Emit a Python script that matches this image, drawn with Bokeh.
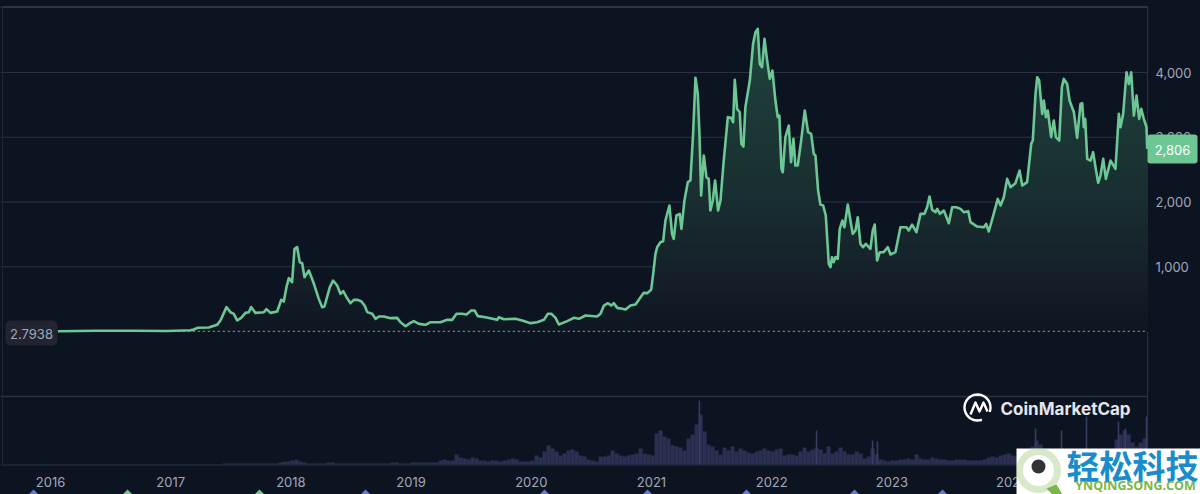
import numpy as np
from bokeh.embed import file_html
from bokeh.resources import INLINE
from bokeh.plotting import figure
from bokeh.models import (Range1d, LinearAxis, FixedTicker, NumeralTickFormatter, Label,
                          BoxAnnotation, PolyAnnotation)

# ---------- data ----------
price_dates = [2016.061,2016.388,2016.693,2016.971,2017.165,2017.192,2017.226,2017.317,2017.386,2017.414,2017.464,2017.497,2017.525,2017.553,2017.586,2017.622,2017.650,2017.669,2017.705,2017.775,2017.797,2017.830,2017.886,2017.919,2017.941,2017.963,2017.983,2018.010,2018.030,2018.052,2018.074,2018.094,2018.113,2018.149,2018.171,2018.196,2018.232,2018.260,2018.279,2018.324,2018.351,2018.385,2018.412,
2018.435,2018.463,2018.496,2018.524,2018.552,2018.585,2018.613,2018.635,2018.676,2018.704,2018.732,2018.773,2018.829,2018.884,2018.912,2018.954,2018.990,2019.023,2019.065,2019.120,2019.162,2019.245,2019.300,2019.342,2019.378,2019.425,2019.461,2019.500,2019.528,2019.555,2019.619,2019.716,2019.730,2019.772,2019.869,2019.924,2019.994,2020.049,2020.105,2020.138,2020.166,2020.202,2020.229,2020.299,2020.354,2020.396,2020.451,2020.548,2020.576,2020.604,2020.637,2020.665,2020.687,2020.715,2020.756,2020.784,2020.825,2020.867,2020.909,2020.936,2020.964,2020.997,2021.014,
2021.033,2021.047,2021.074,2021.097,2021.116,2021.149,2021.171,2021.185,2021.207,2021.235,2021.249,2021.274,2021.302,2021.324,2021.346,2021.366,2021.385,2021.399,2021.413,2021.435,2021.457,2021.476,2021.490,2021.510,2021.529,2021.554,2021.574,2021.601,2021.635,2021.662,2021.679,2021.693,2021.712,2021.734,2021.748,2021.765,2021.781,2021.818,2021.845,2021.865,2021.884,2021.901,2021.920,2021.940,2021.962,2021.984,2022.006,2022.031,2022.050,2022.064,2022.081,2022.092,2022.114,2022.142,2022.161,2022.181,2022.197,2022.217,2022.245,2022.275,2022.303,2022.328,2022.350,2022.364,2022.386,2022.405,2022.428,2022.450,2022.475,2022.489,2022.502,2022.516,2022.530,2022.550,2022.566,2022.588,2022.605,2022.633,2022.655,2022.674,2022.697,2022.716,2022.738,2022.760,2022.783,2022.821,2022.841,2022.857,2022.877,2022.899,2022.932,2022.966,2022.988,2023.029,2023.071,2023.121,2023.140,2023.168,2023.204,
2023.238,2023.271,2023.293,2023.313,2023.335,2023.363,2023.377,2023.399,2023.432,2023.474,2023.501,2023.537,2023.571,2023.598,2023.635,2023.654,2023.709,2023.765,2023.784,2023.806,2023.843,2023.881,2023.904,2023.931,2023.959,2023.987,2024.028,2024.062,2024.084,2024.125,2024.159,2024.172,2024.195,2024.209,2024.225,2024.250,2024.264,2024.281,2024.297,2024.325,2024.347,2024.364,2024.392,2024.414,2024.430,2024.458,2024.478,2024.514,2024.541,2024.569,2024.583,2024.597,2024.608,2024.625,2024.652,2024.674,2024.694,2024.716,2024.735,2024.758,2024.780,2024.819,2024.860,2024.888,2024.902,2024.924,2024.952,2024.971,2024.991,2025.013,2025.035,2025.057,2025.074,2025.096,2025.118,2025.124]
price_values = [3,12,12,8,20,31,57,62,103,170,376,298,273,170,211,288,298,376,288,298,345,288,309,489,463,685,824,762,1276,1302,1070,1055,839,942,839,710,504,376,386,685,787,710,582,
623,530,437,489,489,468,401,299,273,196,232,232,206,211,144,82,129,160,118,103,144,144,180,180,273,273,262,324,324,237,221,180,221,190,196,170,129,144,180,273,273,211,108,160,211,196,247,232,273,401,437,401,437,365,350,340,401,417,530,597,592,643,890,
1199,1302,1379,1395,1714,1946,1508,1431,1791,1817,1585,2023,2306,2332,3052,3917,3670,3052,2100,2718,2383,2357,1868,2023,2332,1868,2023,2640,3310,3299,3232,3886,3438,3387,2898,2857,3464,3876,4442,4622,4674,4133,4082,4519,4184,3901,4030,3567,3310,3335,2512,2460,3001,3181,2615,2975,2563,2563,2949,3412,3078,3052,2743,2718,2177,1961,1946,1791,1045,993,1148,1071,1148,1122,1585,1714,1611,1961,1714,1508,1560,1765,1354,1302,1354,1276,1560,1652,1096,1225,1225,1302,1189,1225,1611,1611,1560,1652,1534,
1817,1817,1920,2085,1879,1843,1894,1817,1868,1673,1920,1920,1894,1843,1858,1688,1621,1611,1662,1544,1791,2048,1946,2074,2357,2229,2290,2486,2254,2306,2898,2949,3670,3927,3876,3361,3567,3310,3412,3001,3258,3001,2949,3773,3901,3824,3567,3387,2990,3515,3526,3155,3284,2666,2640,2769,2537,2296,2409,2666,2357,2640,2512,3361,3155,3361,4004,3824,4004,3335,3644,3284,3438,3284,3155,2821]

volume_start = 2017.448
volume_step = 0.03328
volume_values = [1,1,1,1,1,1,1,1,1,1,1,1,1,1,2,3,3,4,5,3,2,1,1,1,1,1,2,2,1,1,1,1,1,1,1,1,1,1,1,1,1,1,2,2,1,1,1,2,2,2,
2,2,2,2,4,5,4,4,10,7,6,5,7,6,4,4,3,4,4,3,4,5,6,5,3,3,3,4,9,7,13,19,16,13,9,11,14,15,13,9,8,5,4,3,8,8,9,14,11,9,8,9,10,11,16,11,10,9,
31,34,28,26,19,18,17,14,26,30,40,50,33,20,18,14,10,17,14,18,13,16,14,12,11,13,14,16,14,13,15,16,9,10,10,9,13,17,13,15,17,15,11,18,11,13,17,13,10,10,13,11,6,8,16,10,5,4,3,4,4,5,5,6,5,10,6,5,5,7,6,5,5,4,4,5,5,5,4,4,4,4,5,7,8,7,9,10,11,9,8,11,12,14,18,24,20,16,15,14,14,13,12,12,12,10,12,14,12,12,14,14,12,14,14,25,30,34,30,22,18,22,26]
spike_dates = [2021.399,2022.373,2022.839,2022.880,2024.195,2024.411,2024.619,2024.885,2024.943,2025.118]
spike_values = [64,34,24,23,36,34,48,43,36,48]

year_ticks = [2016,2017,2018,2019,2020,2021,2022,2023,2024]
price_ticks = [1000,2000,3000,4000]
event_years = [2015.859,2016.641,2017.739,2018.621,2020.110,2020.967,2021.790,2022.689,2023.421]
event_kinds = ["b","g","g","b","b","b","b","b","b"]
open_price = 2.7938
last_price = 2806

# ---------- scales ----------
BG = "#0d1421"
GRID = "#2a3142"
TXT = "#a1a7bb"
PX_PER_YEAR = 120.2
PX_PER_USD = 0.06475

def X(px):
    return 2016 + (px - 50) / PX_PER_YEAR

def Y(py):
    return (331 - py) / PX_PER_USD

p = figure(width=1200, height=494, output_backend="svg", toolbar_location=None,
           x_range=Range1d(X(0), X(1200)), y_range=Range1d(Y(494), Y(0)),
           min_border_left=0, min_border_right=0, min_border_top=0, min_border_bottom=0,
           background_fill_color=BG, border_fill_color=BG, outline_line_color=None,
           x_axis_location=None, y_axis_location=None)
p.grid.visible = False
p.extra_y_ranges = {"vol": Range1d(-30, 464)}

# axes pinned inside the frame
xa = LinearAxis(ticker=FixedTicker(ticks=year_ticks), axis_line_color=None, major_tick_line_color=None,
                minor_tick_line_color=None, major_tick_out=0, major_label_text_color=TXT,
                major_label_text_font="Inter", major_label_text_font_size="13px",
                major_label_standoff=12, fixed_location=Y(464))
xa.major_label_overrides = {y: str(y) for y in year_ticks}
p.add_layout(xa, "below")
ya = LinearAxis(ticker=FixedTicker(ticks=price_ticks), formatter=NumeralTickFormatter(format="0,0"),
                axis_line_color=None, major_tick_line_color=None, minor_tick_line_color=None, major_tick_out=0,
                major_label_text_color=TXT, major_label_text_font="Inter",
                major_label_text_font_size="13px", major_label_standoff=8, fixed_location=X(1147))
p.add_layout(ya, "right")

# grid and frame lines
p.segment(x0=X(0), x1=X(1147), y0=price_ticks, y1=price_ticks, line_color=GRID, line_width=1)
p.segment(x0=X(0), x1=X(1147), y0=Y(396), y1=Y(396), line_color=GRID, line_width=1.5)
p.segment(x0=X(0), x1=X(1147), y0=Y(6.5), y1=Y(6.5), line_color="#383f50", line_width=1.5)
p.segment(x0=X(0), x1=X(1147), y0=Y(464.5), y1=Y(464.5), line_color=GRID, line_width=1)
p.segment(x0=X(2), x1=X(2), y0=Y(464), y1=Y(6), line_color="#1f2534", line_width=1)
p.segment(x0=X(1147), x1=X(1147), y0=Y(464), y1=Y(6), line_color=GRID, line_width=1)

# volume
vol_dates = volume_start + volume_step * np.arange(len(volume_values))
p.vbar(x=vol_dates, top=volume_values, bottom=0, width=volume_step * 1.02, y_range_name="vol",
       fill_color="#2b2f52", line_color=None)
p.vbar(x=spike_dates, top=spike_values, bottom=0, width=volume_step * 0.4, y_range_name="vol",
       fill_color="#383c62", line_color=None)

# gradient under the price line, painted from the top band down
prices = np.array(price_values, dtype=float)
for top in np.arange(5000, 0, -125):
    col = [np.interp(top, [0, 1000, 2000, 4700], c) for c in
           ([14, 21, 25, 32], [22, 33, 45, 68], [33, 42, 48, 62])]
    p.varea(x=price_dates, y1=0, y2=np.minimum(prices, top),
            fill_color="#%02x%02x%02x" % tuple(int(v) for v in col))

# opening-price line and price line
p.line([price_dates[0], X(1147)], [open_price, open_price], line_color="#9a9fad", line_width=1, line_dash="2 3")
p.line(price_dates, price_values, line_color="#6cc794", line_width=2.6, line_join="round")

# CoinMarketCap logo
a = np.radians(np.arange(-20, 300, 10))
p.line(X(977) + 13 * np.cos(a) / PX_PER_YEAR, Y(407) + 13 * np.sin(a) / PX_PER_USD, line_color="#ffffff", line_width=2.4)
p.line([X(v) for v in (970, 975, 979, 983, 987)], [Y(v) for v in (414, 402, 411, 402, 411)],
       line_color="#ffffff", line_width=2.4, line_join="round")
p.add_layout(Label(x=X(1000), y=Y(408), text="CoinMarketCap", text_color="#e4e6eb", text_font="Inter",
                   text_font_size="17px", text_font_style="bold", text_baseline="middle", text_align="left"))

# price tags
p.add_layout(BoxAnnotation(left=X(1147), right=X(1197), top=Y(134), bottom=Y(163), fill_color="#6cc794",
                           fill_alpha=1, line_color=None, border_radius=3))
p.add_layout(Label(x=X(1172), y=last_price, text="2,806", text_color="#ffffff", text_font="Inter",
                   text_font_size="13px", text_align="center", text_baseline="middle"))
p.add_layout(BoxAnnotation(left=X(5), right=X(57), top=Y(320), bottom=Y(345), fill_color="#222531",
                           fill_alpha=1, line_color=None, border_radius=5))
p.add_layout(Label(x=X(31), y=Y(333), text=str(open_price), text_color=TXT, text_font="Inter",
                   text_font_size="13px", text_align="center", text_baseline="middle"))

# event markers at the bottom edge
for yr, k in zip(event_years, event_kinds):
    c = "#6a78c8" if k == "b" else "#7cc08f"
    hw = 5 / PX_PER_YEAR
    p.add_layout(PolyAnnotation(xs=[yr - hw, yr, yr + hw, yr], ys=[Y(494), Y(489), Y(494), Y(499)],
                                fill_color=c, fill_alpha=1, line_color=None))

# watermark
p.add_layout(BoxAnnotation(left=X(1016), right=X(1200), top=Y(448), bottom=Y(494), fill_color="#ffffff",
                           fill_alpha=1, line_color=None))
p.add_layout(PolyAnnotation(xs=[X(1046), X(1056), X(1062), X(1052)], ys=[Y(488), Y(484), Y(494), Y(494)],
                            fill_color="#7ab648", fill_alpha=1, line_color=None))
p.add_layout(BoxAnnotation(left=X(1019), right=X(1057), top=Y(451), bottom=Y(489), fill_color="#ffffff",
                           fill_alpha=1, line_color="#7ab648", line_width=7, border_radius=19))
p.add_layout(BoxAnnotation(left=X(1031), right=X(1045), top=Y(459), bottom=Y(473), fill_color="#333333",
                           fill_alpha=1, line_color=None, border_radius=7))
p.add_layout(Label(x=X(1066), y=Y(464), text="轻松科技", text_color="#1a8ccc", text_font="Noto Sans CJK SC",
                   text_font_size="33px", text_font_style="bold", text_baseline="middle", text_align="left"))
p.add_layout(Label(x=X(1135), y=Y(484.5), text="YNQINGSONG.COM", text_color="#7ab648", text_font="Open Sans",
                   text_font_size="12.5px", text_font_style="bold", text_baseline="middle", text_align="center"))

html = file_html(p, INLINE)
html = html.replace("</head>", "<style>html{overflow:hidden}html,body{margin:0;padding:0;background:#0d1421}</style></head>", 1)
open("out.html", "w").write(html)
